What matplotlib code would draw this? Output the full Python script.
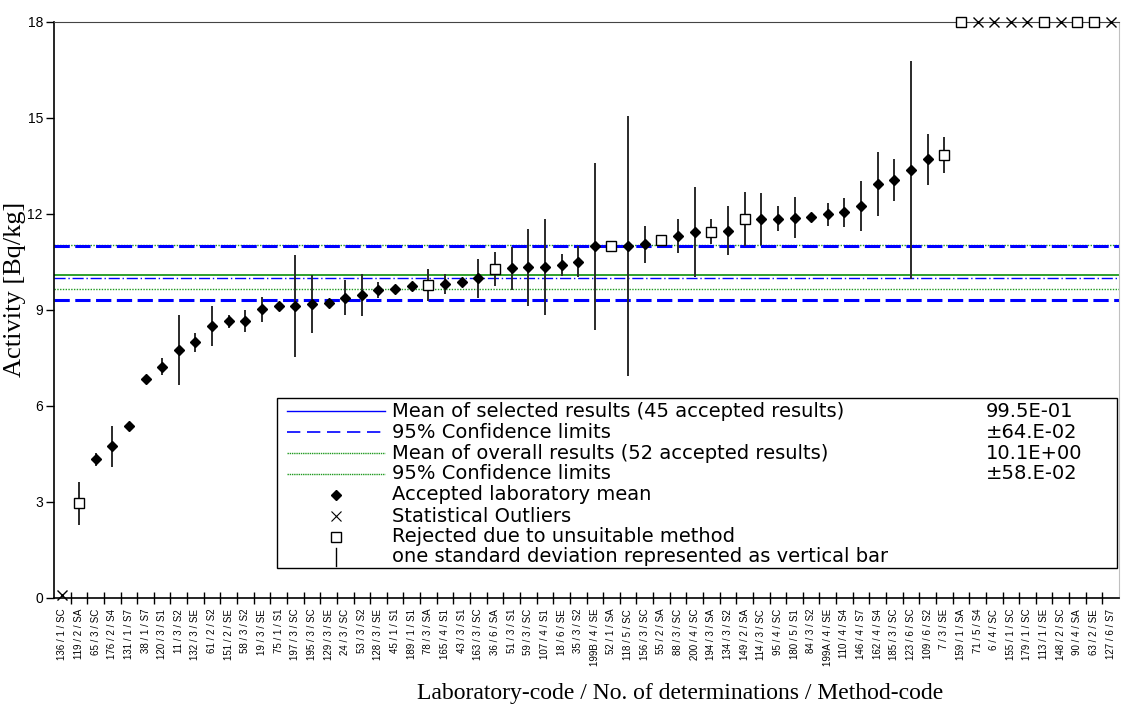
import matplotlib
matplotlib.use("Agg")
import matplotlib.pyplot as plt
from matplotlib.lines import Line2D
from matplotlib.patches import Rectangle
from matplotlib.ticker import FixedLocator

labels = [
    "136 / 1 / SC", "119 / 2 / SA", "65 / 3 / SC", "176 / 2 / S4", "131 / 1 / S7",
    "38 / 1 / S7", "120 / 3 / S1", "11 / 3 / S2", "132 / 3 / SE", "61 / 2 / S2",
    "151 / 2 / SE", "58 / 3 / S2", "19 / 3 / SE", "75 / 1 / S1", "197 / 3 / SC",
    "195 / 3 / SC", "129 / 3 / SE", "24 / 3 / SC", "53 / 3 / S2", "128 / 3 / SE",
    "45 / 1 / S1", "189 / 1 / S1", "78 / 3 / SA", "165 / 4 / S1", "43 / 3 / S1",
    "163 / 3 / SC", "36 / 6 / SA", "51 / 3 / S1", "59 / 3 / SC", "107 / 4 / S1",
    "18 / 6 / SE", "35 / 3 / S2", "199B / 4 / SE", "52 / 1 / SA", "118 / 5 / SC",
    "156 / 3 / SC", "55 / 2 / SA", "88 / 3 / SC", "200 / 4 / SC", "194 / 3 / SA",
    "134 / 3 / S2", "149 / 2 / SA", "114 / 3 / SC", "95 / 4 / SC", "180 / 5 / S1",
    "84 / 3 / S2", "199A / 4 / SE", "110 / 4 / S4", "146 / 4 / S7", "162 / 4 / S4",
    "185 / 3 / SC", "123 / 6 / SC", "109 / 6 / S2", "7 / 3 / SE", "159 / 1 / SA",
    "71 / 5 / S4", "6 / 4 / SC", "155 / 1 / SC", "179 / 1 / SC", "113 / 1 / SE",
    "148 / 2 / SC", "90 / 4 / SA", "63 / 2 / SE", "127 / 6 / S7",
]

# lab means; off-scale outliers are shown at the top of the axis (18)
values = [
    0.1, 2.95, 4.33, 4.74, 5.37, 6.84, 7.22, 7.74, 7.98, 8.49,
    8.64, 8.64, 9.01, 9.12, 9.12, 9.18, 9.22, 9.38, 9.47, 9.61,
    9.64, 9.74, 9.78, 9.80, 9.88, 9.98, 10.26, 10.29, 10.32, 10.32,
    10.40, 10.50, 10.98, 11.00, 11.00, 11.04, 11.18, 11.31, 11.43, 11.44,
    11.47, 11.83, 11.83, 11.84, 11.88, 11.91, 11.98, 12.05, 12.25, 12.92,
    13.05, 13.36, 13.70, 13.84, 18, 18, 18, 18, 18, 18,
    18, 18, 18, 18,
]

stdevs = [
    0, 0.67, 0.2, 0.64, 0, 0, 0.27, 1.1, 0.3, 0.63,
    0.2, 0.35, 0.39, 0, 1.6, 0.92, 0.13, 0.56, 0.66, 0.25,
    0, 0, 0.5, 0.32, 0, 0.6, 0.53, 0.66, 1.2, 1.5,
    0.34, 0.48, 2.6, 0, 4.06, 0.57, 0.1, 0.54, 1.4, 0.38,
    0.77, 0.85, 0.82, 0.39, 0.65, 0, 0.37, 0.45, 0.78, 1.0,
    0.65, 3.4, 0.8, 0.56, 0, 0, 0, 0, 0, 0,
    0, 0, 0, 0,
]

# A = accepted, O = statistical outlier, R = rejected (unsuitable method)
status = (
    "OR" + "A" * 20 + "R" + "AAA" + "R" + "A" * 6 + "R" + "AA" + "R" + "AA"
    + "R" + "A" + "R" + "A" * 11 + "R" + "R" + "OOOO" + "R" + "O" + "RR" + "O"
)

mean_selected = 9.98
ci_selected = (9.30, 11.00)
mean_overall = 10.10
ci_overall = (9.64, 11.03)

legend_rows = [
    ("Mean of selected results (45 accepted results)", "99.5E-01"),
    ("95% Confidence limits", "±64.E-02"),
    ("Mean of overall results (52 accepted results)", "10.1E+00"),
    ("95% Confidence limits", "±58.E-02"),
    ("Accepted laboratory mean", ""),
    ("Statistical Outliers", ""),
    ("Rejected due to unsuitable method", ""),
    ("one standard deviation represented as vertical bar", ""),
]

BLUE = "#0000ff"
GREEN = "#1f9a1f"

fig = plt.figure(figsize=(11.21, 7.06), dpi=100)
ax = fig.add_axes([54 / 1121, 108.3 / 706, 1065 / 1121, 576 / 706])

x = list(range(len(labels)))

# reference lines
ax.axhline(ci_overall[1], color=GREEN, lw=1.0, ls=(0, (1, 1)), zorder=1)
ax.axhline(ci_overall[0], color=GREEN, lw=1.0, ls=(0, (1, 1)), zorder=1)
ax.axhline(mean_overall, color=GREEN, lw=1.3, zorder=1)
ax.axhline(mean_selected, color=BLUE, lw=1.0, ls=(0, (8, 2, 1, 2)), zorder=1)
ax.axhline(ci_selected[0], color=BLUE, lw=2.2, ls=(0, (5, 1.8)), zorder=1)
ax.axhline(ci_selected[1], color=BLUE, lw=2.2, ls=(0, (5, 1.8)), zorder=1)

# standard deviation bars
for xi, v, s in zip(x, values, stdevs):
    if s > 0:
        ax.vlines(xi, v - s, v + s, color="#2a2a2a", lw=1.4, zorder=2)

acc = [(xi, v) for xi, v, st in zip(x, values, status) if st == "A"]
rej = [(xi, v) for xi, v, st in zip(x, values, status) if st == "R"]
out = [(xi, v) for xi, v, st in zip(x, values, status) if st == "O"]

ax.plot([p[0] for p in acc], [p[1] for p in acc], "D", color="black",
        markersize=5, zorder=3, clip_on=False)
ax.plot([p[0] for p in rej], [p[1] for p in rej], "s", mfc="white", mec="black",
        mew=1.0, markersize=7.5, zorder=3, clip_on=False)
ax.plot([p[0] for p in out], [p[1] for p in out], "x", color="black",
        mew=1.0, markersize=7, zorder=3, clip_on=False)

ax.set_xlim(-0.5, len(labels) - 0.5)
ax.set_ylim(0, 18)
ax.set_yticks([0, 3, 6, 9, 12, 15, 18])
ax.tick_params(axis="y", direction="out", length=6, width=1, labelsize=10, pad=2)
for t in ax.get_yticklabels():
    t.set_family("Liberation Sans")

ax.set_xticks(x)
ax.set_xticklabels(labels, rotation=90, fontsize=7, family="Liberation Sans")
ax.tick_params(axis="x", which="major", length=0, pad=8)
ax.xaxis.set_minor_locator(FixedLocator([i + 0.5 for i in x[:-1]]))
ax.tick_params(axis="x", which="minor", direction="inout", length=8, width=1)

ax.spines["left"].set_linewidth(1.2)
ax.spines["bottom"].set_linewidth(1.2)
ax.spines["top"].set_color("#444444")
ax.spines["right"].set_color("#c0c0c0")

fig.text(680 / 1121, 1 - 694 / 706, "Laboratory-code / No. of determinations / Method-code",
         ha="center", va="center", fontsize=17, family="Liberation Serif")
fig.text(26 / 1121, 1 - 289 / 706, "Activity [Bq/kg]", rotation=90,
         ha="right", va="center", fontsize=19, family="Liberation Serif")

# legend box drawn by hand so the value column lines up
box_l, box_r, box_t, box_b = 0.2094, 0.998, 0.3467, 0.0516
ax.add_patch(Rectangle((box_l, box_b), box_r - box_l, box_t - box_b,
                       transform=ax.transAxes, fc="white", ec="black", lw=1.0, zorder=5))
row_y = [0.324, 0.2875, 0.2512, 0.2148, 0.1783, 0.1418, 0.1054, 0.0707]
h0, h1, hm = 0.2188, 0.3108, 0.2648
handle_styles = [
    dict(color=BLUE, lw=1.0, ls="-"),
    dict(color=BLUE, lw=1.2, ls=(0, (8, 4))),
    dict(color=GREEN, lw=1.0, ls=(0, (1, 0.6))),
    dict(color=GREEN, lw=1.0, ls=(0, (1, 0.6))),
]
for i, (y, (text, val)) in enumerate(zip(row_y, legend_rows)):
    if i < 4:
        ax.add_line(Line2D([h0, h1], [y, y], transform=ax.transAxes, zorder=6,
                           **handle_styles[i]))
    elif i == 4:
        ax.add_line(Line2D([hm], [y], transform=ax.transAxes, marker="D", color="black",
                           markersize=5, ls="none", zorder=6))
    elif i == 5:
        ax.add_line(Line2D([hm], [y], transform=ax.transAxes, marker="x", color="black",
                           markersize=7, mew=0.8, ls="none", zorder=6))
    elif i == 6:
        ax.add_line(Line2D([hm], [y], transform=ax.transAxes, marker="s", mfc="white",
                           mec="black", markersize=7, ls="none", zorder=6))
    else:
        ax.add_line(Line2D([hm, hm], [y - 0.016, y + 0.016], transform=ax.transAxes,
                           color="black", lw=1.0, zorder=6))
    ax.text(0.3174, y, text, transform=ax.transAxes, ha="left", va="center",
            fontsize=14, family="DejaVu Sans", zorder=7)
    if val:
        ax.text(0.8751, y, val, transform=ax.transAxes, ha="left", va="center",
                fontsize=14, family="DejaVu Sans", zorder=7)

fig.savefig("out.png", dpi=100)
